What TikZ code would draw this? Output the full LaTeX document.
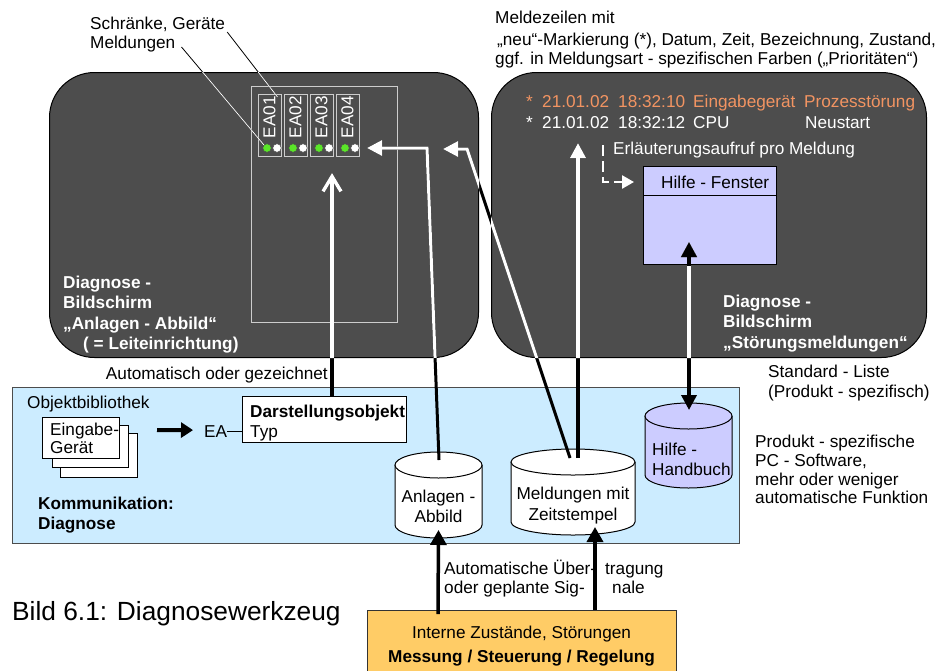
\documentclass[tikz,border=0pt]{standalone}
\usepackage{fontspec}
\setmainfont{Liberation Sans}
\usetikzlibrary{arrows.meta,calc}

\definecolor{screen}{RGB}{77,77,77}
\definecolor{pcblue}{RGB}{204,236,255}
\definecolor{helpblue}{RGB}{204,204,255}
\definecolor{plant}{RGB}{255,204,102}
\definecolor{alarm}{RGB}{242,148,98}
\definecolor{ledon}{RGB}{90,230,40}
\definecolor{frameline}{RGB}{205,205,205}

% cylinder: name, centre x, top y, bottom y, x radius, fill
\newcommand\drum[6]{%
  \filldraw[fill=#6,line width=1pt] ({#2-#5},#3) -- ({#2-#5},#4)
    arc[start angle=180,end angle=0,x radius=#5,y radius=13] -- ({#2+#5},#3);
  \filldraw[fill=#6,line width=1pt] (#2,#3) ellipse[x radius=#5,y radius=13];
  \coordinate (#1) at (#2,#3);
  \coordinate (#1-base) at (#2,{#4+13});}

% a line that is white on the two screens and black elsewhere
\newcommand\duotone[2]{%
  \draw[#1,black] #2;
  \begin{scope}
    \clip[rounded corners=45pt] (scrA.south west) rectangle (scrA.north east)
      (scrB.south west) rectangle (scrB.north east);
    \draw[#1,white] #2;
  \end{scope}}

\begin{document}
\begin{tikzpicture}[x=1pt,y=-1pt,
  lbl/.style={anchor=base west,inner sep=0pt,font=\fontsize{17.2}{20}\selectfont},
  bold/.style={lbl,font=\fontsize{17.2}{20}\selectfont\bfseries},
  onscreen/.style={lbl,text=white},
  boldscreen/.style={bold,text=white},
  screenbox/.style={draw=black,fill=screen,rounded corners=45pt,line width=1pt,
    inner sep=0pt,anchor=north west},
  cab/.style={draw=frameline,line width=1pt,inner sep=0pt,anchor=north west,
    minimum width=22.5pt,minimum height=62pt},
  led/.style={circle,draw=black!70,line width=0.5pt,inner sep=0pt,minimum size=8.5pt},
  plainbox/.style={draw=black,fill=white,line width=1.2pt,inner sep=0pt,anchor=north west},
  filledbox/.style={line width=1pt,inner sep=0pt,anchor=north west},
  head/.style={-{Triangle[length=15pt,width=15pt]}},
  leader/.style={line width=0.8pt},
]
\useasboundingbox (0,0) rectangle (936,670);
\clip (0,0) rectangle (936,670);

% ---------------- the two diagnosis screens ----------------
\node[screenbox,minimum width=429pt,minimum height=285pt] (scrA) at (49,72) {};
\node[screenbox,minimum width=435pt,minimum height=285pt] (scrB) at (491,72) {};

% plant image with four cabinets
\draw[frameline,line width=1pt] (251,86) rectangle (397,322);
\foreach \k [evaluate=\k as \lx using 258+26*(\k-1)] in {1,...,4}{
  \node[cab] (ea\k) at (\lx,94) {};
  \node[rotate=90,inner sep=0pt,text=white,font=\fontsize{17.2}{20}\selectfont]
    (ea\k-name) at ({\lx+11.5},117) {EA0\k};
  \node[led,fill=ledon] (ea\k-g) at ({\lx+9},148) {};
  \node[led,fill=white] (ea\k-w) at ({\lx+19},148) {};
}

\node[boldscreen] (scrA-l1) at (63,288) {Diagnose -};
\node[boldscreen] (scrA-l2) at (63,308) {Bildschirm};
\node[boldscreen] (scrA-l3) at (63,329) {„Anlagen - Abbild“};
\node[boldscreen] (scrA-l4) at (83,349) {( = Leiteinrichtung)};

% message list
\node[lbl,text=alarm] (m1a) at (526,107) {*};
\node[lbl,text=alarm] (m1b) at (542,107) {21.01.02};
\node[lbl,text=alarm] (m1c) at (618,107) {18:32:10};
\node[lbl,text=alarm] (m1d) at (693,107) {Eingabegerät};
\node[lbl,text=alarm] (m1e) at (804,107) {Prozesstörung};
\node[onscreen] (m2a) at (526,128) {*};
\node[onscreen] (m2b) at (542,128) {21.01.02};
\node[onscreen] (m2c) at (618,128) {18:32:12};
\node[onscreen] (m2d) at (693,128) {CPU};
\node[onscreen] (m2e) at (805,128) {Neustart};
\node[onscreen] (callText) at (613,154) {Erläuterungsaufruf pro Meldung};

% help window
\node[filledbox,draw=black,fill=helpblue,minimum width=133pt,minimum height=98pt]
  (helpwin) at (643,166) {};
\draw[line width=1pt] ($(helpwin.north west)+(0,29)$) -- ($(helpwin.north east)+(0,29)$);
\node[lbl] (helpTitle) at (661,188.5) {Hilfe - Fenster};

\coordinate (callout) at (603,145);
\coordinate (helptip) at (634,182);
\draw[white,line width=2.5pt,dash pattern=on 11pt off 5pt,
  -{Triangle[length=12pt,width=13pt]}] (callout) |- (helptip);

\node[boldscreen] (scrB-l1) at (723,307) {Diagnose -};
\node[boldscreen] (scrB-l2) at (723,327) {Bildschirm};
\node[boldscreen] (scrB-l3) at (723,348) {„Störungsmeldungen“};

% ---------------- captions above and beside the screens ----------------
\node[lbl] (tCab) at (90,29) {Schränke, Geräte};
\node[lbl] (tMsg) at (90,48) {Meldungen};
\node[lbl] (hdr1) at (495,23) {Meldezeilen mit};
\node[lbl] (hdr2) at (497,45) {„neu“-Markierung (*), Datum, Zeit, Bezeichnung, Zustand,};
\node[lbl] (hdr3) at (495,64) {ggf. in Meldungsart - spezifischen Farben („Prioritäten“)};
\node[lbl] (std1) at (768,377) {Standard - Liste};
\node[lbl] (std2) at (768,397) {(Produkt - spezifisch)};
\node[lbl,anchor=base east] (autoText) at (328,379) {Automatisch oder gezeichnet};

\duotone{leader}{($(tCab.base east)+(2,3)$) -- ($(ea1.north east)+(-4,3)$)}
\duotone{leader}{($(tMsg.base east)+(6,-1)$) -- (ea1-g.north west)}

% ---------------- PC software ----------------
\node[filledbox,draw=black!70,fill=pcblue,line width=1.2pt,minimum width=727pt,
  minimum height=156pt] (pc) at (12,387) {};
\node[lbl] (libText) at (27,408) {Objektbibliothek};

\node[plainbox,line width=1pt,minimum width=77pt,minimum height=44pt] (card3) at (60,433) {};
\node[plainbox,line width=1pt,minimum width=76pt,minimum height=42pt] (card2) at (52,425) {};
\node[plainbox,line width=1pt,minimum width=77pt,minimum height=41pt] (card1) at (42,417) {};
\node[lbl] (card1a) at (50,435) {Eingabe-};
\node[lbl] (card1b) at (50,453) {Gerät};

\node[lbl] (eaText) at (204,437) {EA};
\node[plainbox,minimum width=164pt,minimum height=46pt] (objbox) at (242,396) {};
\node[bold] (objTitle) at (250,417) {Darstellungsobjekt};
\node[lbl] (objType) at (250,437) {Typ};
\coordinate (libOut) at (157,430);
\draw[line width=4pt,-{Triangle[length=12pt,width=15pt]}] (libOut) -- ($(eaText.west)+(-11,-1)$);
\draw[line width=0.8pt] ($(eaText.east)+(0,0)$) -- ($(eaText.east -| objbox.west)$);

\node[bold] (kom1) at (38,509) {Kommunikation:};
\node[bold] (kom2) at (38,529) {Diagnose};

\drum{anl}{438.5}{465}{525}{43.5}{white}
\drum{msg}{573}{462}{522}{62}{white}
\drum{hb}{688.5}{416}{475}{43.5}{helpblue}
\node[lbl,anchor=base] (anlA) at (438.5,502) {Anlagen -};
\node[lbl,anchor=base] (anlB) at (438.5,522) {Abbild};
\node[lbl,anchor=base] (msgA) at (573,499) {Meldungen mit};
\node[lbl,anchor=base] (msgB) at (573,520) {Zeitstempel};
\node[lbl] (hbA) at (652,455) {Hilfe -};
\node[lbl] (hbB) at (652,475) {Handbuch};

\node[lbl] (sw1) at (755,447) {Produkt - spezifische};
\node[lbl] (sw2) at (755,466) {PC - Software,};
\node[lbl] (sw3) at (755,485) {mehr oder weniger};
\node[lbl] (sw4) at (755,503) {automatische Funktion};

% ---------------- process level ----------------
\node[filledbox,draw=black!80,fill=plant,minimum width=309pt,minimum height=70pt]
  (plantbox) at (367,610) {};
\node[lbl,anchor=base] (plant1) at (521.5,638) {Interne Zustände, Störungen};
\node[bold,anchor=base] (plant2) at (521.5,662) {Messung / Steuerung / Regelung};

\node[lbl] (tr1) at (444,574) {Automatische Über-};
\node[lbl] (tr2) at (444,593) {oder geplante Sig-};
\node[lbl] (tr3) at (605,574) {tragung};
\node[lbl] (tr4) at (612,593) {nale};

\draw[line width=3.5pt,-{Triangle[length=15pt,width=16pt]}]
  ($(plantbox.north west)+(71,4)$) -- ($(anl-base)+(0,-8)$);
\draw[line width=3.5pt,-{Triangle[length=15pt,width=16pt]}]
  ($(plantbox.north west)+(228,0)$) -- ($(msg-base)+(22,-8)$);

\node[lbl,font=\fontsize{26.3}{30}\selectfont] (caption) at (12,620) {Bild 6.1: Diagnosewerkzeug};

% ---------------- connections between the levels ----------------
\coordinate (tipA) at (332,173);
\coordinate (tipB) at (367,148);
\coordinate (bendB) at (427,148);
\coordinate (tipC) at (443,149);
\coordinate (bendC) at (467,149);
\coordinate (tipD) at (578,143);
\coordinate (tipE) at (689,242);

\duotone{line width=3.5pt,-{Straight Barb[length=15pt,width=18pt]}}
  {($(objbox.north west)+(90,0)$) -- (tipA)}
\duotone{line width=3pt,head}{($(anl)+(0.5,-5)$) -- (bendB) -- (tipB)}
\duotone{line width=3pt,head}{($(msg)+(-3,-4)$) -- (bendC) -- (tipC)}
\duotone{line width=3.5pt,head}{($(msg)+(5,-4)$) -- (tipD)}
\duotone{line width=3.5pt,{Triangle[length=15pt,width=15pt]}-{Triangle[length=15pt,width=15pt]}}
  {(tipE) -- ($(hb)+(0.5,-6)$)}
\begin{scope}
  \clip (helpwin.south west) rectangle (helpwin.north east);
  \draw[line width=3.5pt,{Triangle[length=15pt,width=15pt]}-{Triangle[length=15pt,width=15pt]}]
    (tipE) -- ($(hb)+(0.5,-6)$);
\end{scope}
\end{tikzpicture}
\end{document}
